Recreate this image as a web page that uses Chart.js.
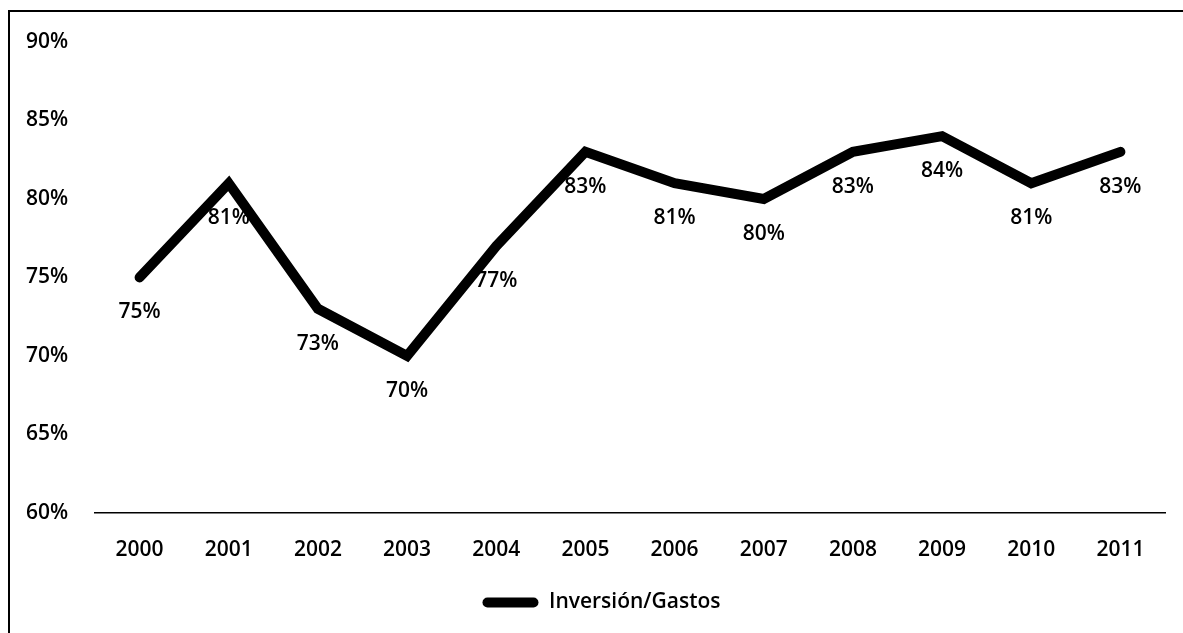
<!DOCTYPE html>
<html>
<head>
<meta charset="utf-8">
<script src="https://cdn.jsdelivr.net/npm/chart.js@4"></script>
<style>
  html, body { margin: 0; padding: 0; background: #fff; }
  #wrap { position: relative; width: 1183px; height: 633px; overflow: hidden; }
  #frame { position: absolute; left: 8px; top: 10px; width: 1200px; height: 700px;
           border-left: 2px solid #000; border-top: 2px solid #000; }
  canvas { position: absolute; left: 0; top: 0; }
</style>
</head>
<body>
<div id="wrap">
  <div id="frame"></div>
  <canvas id="chart" width="1183" height="633"></canvas>
</div>
<script>
// Data
const years = ['2000', '2001', '2002', '2003', '2004', '2005', '2006', '2007', '2008', '2009', '2010', '2011'];
const ratio = [75, 81, 73, 70, 77, 83, 81, 80, 83, 84, 81, 83];
const seriesName = 'Inversión/Gastos';

const FONT = { family: '"Open Sans", sans-serif', size: 21, weight: '600' };

// Draw value labels under each point
const pointLabels = {
    id: 'pointLabels',
    afterDatasetsDraw(chart) {
        const ctx = chart.ctx;
        const meta = chart.getDatasetMeta(0);
        ctx.save();
        ctx.font = FONT.weight + ' ' + FONT.size + 'px ' + FONT.family;
        ctx.fillStyle = '#000';
        ctx.textAlign = 'center';
        ctx.textBaseline = 'middle';
        meta.data.forEach((pt, i) => {
            ctx.fillText(ratio[i] + '%', pt.x, pt.y + 35);
        });
        ctx.restore();
    }
};

Chart.defaults.font.family = FONT.family;
Chart.defaults.font.size = FONT.size;
Chart.defaults.color = '#000';

new Chart(document.getElementById('chart'), {
    type: 'line',
    data: {
        labels: years,
        datasets: [{
            label: seriesName,
            data: ratio,
            borderColor: '#000',
            backgroundColor: '#000',
            borderWidth: 10,
            borderCapStyle: 'round',
            borderJoinStyle: 'miter',
            pointRadius: 0,
            tension: 0
        }]
    },
    options: {
        responsive: false,
        animation: false,
        layout: { padding: { top: 42, right: 18, left: 38, bottom: 10 } },
        plugins: {
            legend: {
                position: 'bottom',
                labels: {
                    boxWidth: 56,
                    boxHeight: 10,
                    padding: 13,
                    font: FONT,
                    generateLabels: (chart) => [{
                        text: seriesName,
                        fillStyle: '#000',
                        strokeStyle: '#000',
                        lineWidth: 0,
                        borderRadius: 5,
                        datasetIndex: 0
                    }]
                }
            },
            tooltip: { enabled: false }
        },
        scales: {
            x: {
                offset: true,
                grid: { display: false },
                border: { display: true, color: '#000', width: 1.5 },
                ticks: { padding: 17, font: FONT },
                afterFit: (s) => { s.height -= 1; }
            },
            y: {
                min: 60,
                max: 90,
                grid: { display: false, drawTicks: false },
                border: { display: false },
                ticks: {
                    stepSize: 5,
                    mirror: true,
                    padding: -69,
                    font: FONT,
                    callback: (v) => v + '%'
                },
                afterFit: (s) => { s.width = 57; }
            }
        }
    },
    plugins: [pointLabels]
});
</script>
</body>
</html>
